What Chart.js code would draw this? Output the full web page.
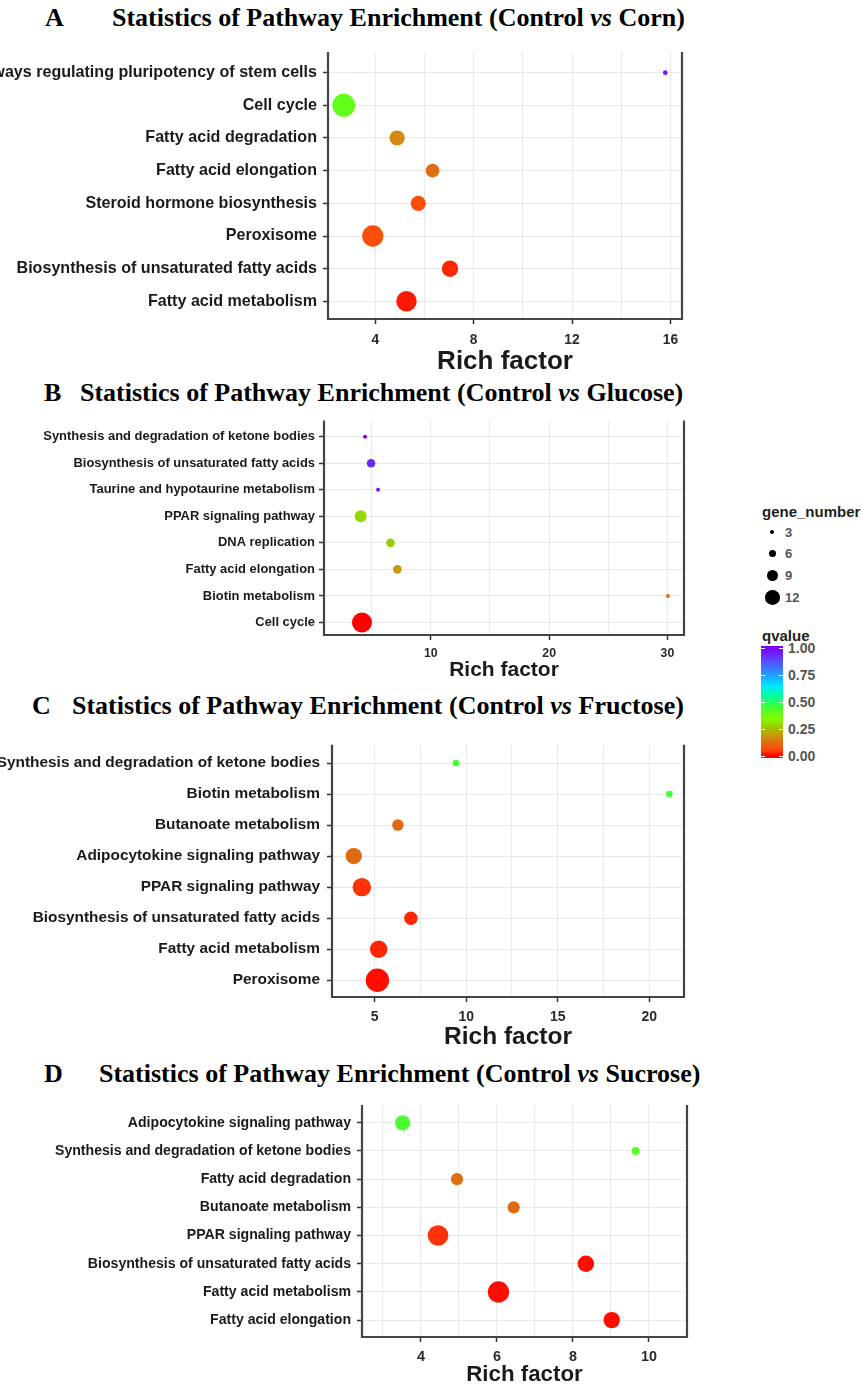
<!DOCTYPE html>
<html>
<head>
<meta charset="utf-8">
<script src="https://cdn.jsdelivr.net/npm/chart.js@4.4.1/dist/chart.umd.min.js"></script>
<style>
html,body{margin:0;padding:0;background:#fff;}
body{width:862px;height:1386px;position:relative;overflow:hidden;font-family:"Liberation Sans",Arial,sans-serif;}
canvas{position:absolute;left:0;}
.ttl{position:absolute;font-family:"Liberation Serif","Times New Roman",serif;font-weight:bold;font-size:26px;line-height:26px;color:#000;white-space:nowrap;}
.lgt{position:absolute;font-weight:bold;font-size:15px;line-height:15px;color:#1e1e1e;white-space:nowrap;}
.lgl{position:absolute;font-weight:bold;font-size:13px;line-height:13px;color:#555;white-space:nowrap;}
.dot{position:absolute;border-radius:50%;background:#000;}
#cbar{position:absolute;}
.wt{position:absolute;height:1px;background:#fff;}
</style>
</head>
<body>
<div class="ttl" style="left:45px;top:5px;">A</div>
<div class="ttl" style="left:112px;top:5px;">Statistics of Pathway Enrichment (Control <i>vs</i> Corn)</div>
<canvas id="cA" width="700" height="337" style="top:38px;"></canvas>

<div class="ttl" style="left:44px;top:380px;">B</div>
<div class="ttl" style="left:80px;top:380px;">Statistics of Pathway Enrichment (Control <i>vs</i> Glucose)</div>
<canvas id="cB" width="700" height="271" style="top:410px;"></canvas>

<div class="ttl" style="left:32px;top:693px;">C</div>
<div class="ttl" style="left:72px;top:693px;">Statistics of Pathway Enrichment (Control <i>vs</i> Fructose)</div>
<canvas id="cC" width="700" height="319" style="top:730px;"></canvas>

<div class="ttl" style="left:44px;top:1061px;">D</div>
<div class="ttl" style="left:99px;top:1061px;">Statistics of Pathway Enrichment (Control <i>vs</i> Sucrose)</div>
<canvas id="cD" width="700" height="294" style="top:1092px;"></canvas>

<div id="legend"></div>

<script>
// ---------- DATA ----------
const pathwaysA = ["Signaling pathways regulating pluripotency of stem cells","Cell cycle","Fatty acid degradation","Fatty acid elongation","Steroid hormone biosynthesis","Peroxisome","Biosynthesis of unsaturated fatty acids","Fatty acid metabolism"];
const richFactorA = [15.79, 2.72, 4.89, 6.33, 5.75, 3.90, 7.04, 5.27];
const geneNumberA = [1, 13, 5, 4, 5, 11, 6, 10];
const qvalueA = [0.97, 0.40, 0.17, 0.13, 0.07, 0.07, 0.03, 0.02];
const xTicksA = [4, 6, 8, 10, 12, 14, 16];
const xTickLabelsA = [4, 8, 12, 16];

const pathwaysB = ["Synthesis and degradation of ketone bodies","Biosynthesis of unsaturated fatty acids","Taurine and hypotaurine metabolism","PPAR signaling pathway","DNA replication","Fatty acid elongation","Biotin metabolism","Cell cycle"];
const richFactorB = [4.44, 4.95, 5.54, 4.07, 6.59, 7.17, 30.04, 4.18];
const geneNumberB = [1, 2, 1, 4, 2, 2, 1, 13];
const qvalueB = [1.00, 0.93, 0.98, 0.29, 0.27, 0.19, 0.12, 0.00];
const xTicksB = [5, 10, 15, 20, 25, 30];
const xTickLabelsB = [10, 20, 30];

const pathwaysC = ["Synthesis and degradation of ketone bodies","Biotin metabolism","Butanoate metabolism","Adipocytokine signaling pathway","PPAR signaling pathway","Biosynthesis of unsaturated fatty acids","Fatty acid metabolism","Peroxisome"];
const richFactorC = [9.44, 21.1, 6.27, 3.86, 4.30, 6.98, 5.22, 5.15];
const geneNumberC = [1, 1, 2, 5, 7, 3, 6, 13];
const qvalueC = [0.45, 0.45, 0.12, 0.12, 0.04, 0.03, 0.03, 0.01];
const xTicksC = [5, 7.5, 10, 12.5, 15, 17.5, 20];
const xTickLabelsC = [5, 10, 15, 20];

const pathwaysD = ["Adipocytokine signaling pathway","Synthesis and degradation of ketone bodies","Fatty acid degradation","Butanoate metabolism","PPAR signaling pathway","Biosynthesis of unsaturated fatty acids","Fatty acid metabolism","Fatty acid elongation"];
const richFactorD = [3.52, 9.65, 4.95, 6.44, 4.45, 8.34, 6.04, 9.02];
const geneNumberD = [5, 2, 3, 3, 11, 6, 12, 6];
const qvalueD = [0.44, 0.42, 0.13, 0.12, 0.04, 0.01, 0.01, 0.01];
const xTicksD = [3, 4, 5, 6, 7, 8, 9, 10];
const xTickLabelsD = [4, 6, 8, 10];

const legendGeneBreaks = [3, 6, 9, 12];
const legendQLabels = ["1.00", "0.75", "0.50", "0.25", "0.00"];
const legendQValues = [1.00, 0.75, 0.50, 0.25, 0.00];

// ---------- STYLE ----------
const FONT = '"Liberation Sans", Arial, Helvetica, sans-serif';
const colorStops = [[0,'#FF0000'],[0.06,'#FF4A0A'],[0.12,'#E06A10'],[0.18,'#CF9010'],[0.27,'#99CC00'],[0.35,'#80FF00'],[0.45,'#44FF33'],[0.56,'#00FFA0'],[0.65,'#00E8FF'],[0.75,'#20A0FF'],[0.85,'#4A60FF'],[1,'#8000FF']];

function hexToRgb(h){ return [parseInt(h.substr(1,2),16), parseInt(h.substr(3,2),16), parseInt(h.substr(5,2),16)]; }
function qColor(q){
  q = Math.max(0, Math.min(1, q));
  for (let i = 0; i < colorStops.length - 1; i++) {
    const [q0, c0] = colorStops[i], [q1, c1] = colorStops[i+1];
    if (q >= q0 && q <= q1) {
      const t = (q - q0) / (q1 - q0);
      const a = hexToRgb(c0), b = hexToRgb(c1);
      const m = a.map((v, k) => Math.round(v + (b[k] - v) * t));
      return 'rgb(' + m.join(',') + ')';
    }
  }
  return colorStops[colorStops.length-1][1];
}

const frame = {
  id: 'frame',
  afterDraw(chart) {
    const { ctx, chartArea: a } = chart;
    ctx.save();
    ctx.strokeStyle = '#444';
    ctx.lineWidth = 2.2;
    ctx.beginPath();
    ctx.moveTo(a.left, a.top);
    ctx.lineTo(a.left, a.bottom);
    ctx.lineTo(a.right, a.bottom);
    ctx.lineTo(a.right, a.top);
    ctx.stroke();
    ctx.restore();
  }
};

function makePanel(id, p, labels, rich, genes, qs, xTicks, xMajor) {
  const gLo = Math.min(...genes), gHi = Math.max(...genes);
  const rad = g => (p.dMin + (p.dMax - p.dMin) * Math.sqrt((g - gLo) / (gHi - gLo))) / 2;
  new Chart(document.getElementById(id), {
    type: 'bubble',
    data: {
      datasets: [{
        data: rich.map((x, i) => ({ x: x, y: i, r: rad(genes[i]) })),
        backgroundColor: qs.map(qColor),
        borderWidth: 0,
        hoverBorderWidth: 0
      }]
    },
    options: {
      responsive: false,
      animation: false,
      devicePixelRatio: 1,
      events: [],
      layout: { padding: { top: p.padTop, right: p.padRight, bottom: 0, left: 0 } },
      plugins: { legend: { display: false }, tooltip: { enabled: false } },
      scales: {
        x: {
          type: 'linear', position: 'bottom', min: p.xMin, max: p.xMax,
          afterBuildTicks: s => { s.ticks = xTicks.map(v => ({ value: v })); },
          afterFit: s => { s.height = p.xH; },
          border: { display: false },
          grid: {
            color: '#e9e9e9', lineWidth: 1, drawTicks: true, tickLength: 5, tickWidth: 1.5,
            tickColor: c => (c.tick && xMajor.includes(c.tick.value)) ? '#333' : 'rgba(0,0,0,0)'
          },
          ticks: {
            autoSkip: false, maxRotation: 0, minRotation: 0, padding: p.xPad, color: '#2a2a2a',
            font: { family: FONT, size: p.xFont, weight: 'bold', lineHeight: 1 },
            callback: v => xMajor.includes(v) ? String(v) : ''
          },
          title: {
            display: true, text: 'Rich factor', color: '#1a1a1a', padding: 0,
            font: { family: FONT, size: p.tFont, weight: 'bold', lineHeight: 1 }
          }
        },
        y: {
          type: 'linear', position: 'left', reverse: true, min: p.yMin, max: p.yMax,
          afterBuildTicks: s => { s.ticks = labels.map((_, i) => ({ value: i })); },
          afterFit: s => { s.width = p.left; },
          border: { display: false },
          grid: { color: '#e9e9e9', lineWidth: 1, drawTicks: true, tickLength: 5, tickWidth: 1.5, tickColor: '#333' },
          ticks: {
            autoSkip: false, padding: p.yPad, color: '#1a1a1a',
            font: { family: FONT, size: p.yFont, weight: 'bold', lineHeight: 1 },
            callback: v => labels[v]
          }
        }
      }
    },
    plugins: [frame]
  });
}

makePanel('cA', { padTop: 9, padRight: 18, left: 328, xH: 56, xMin: 2.08, xMax: 16.47, yMin: -0.63, yMax: 7.54,
  xFont: 13.8, xPad: 9, tFont: 26, yFont: 16.1, yPad: 6, dMin: 4.7, dMax: 22.9 },
  pathwaysA, richFactorA, geneNumberA, qvalueA, xTicksA, xTickLabelsA);

makePanel('cB', { padTop: 10, padRight: 16, left: 324, xH: 46, xMin: 0.97, xMax: 31.4, yMin: -0.61, yMax: 7.47,
  xFont: 12.3, xPad: 7, tFont: 21, yFont: 12.95, yPad: 4, dMin: 4, dMax: 20 },
  pathwaysB, richFactorB, geneNumberB, qvalueB, xTicksB, xTickLabelsB);

makePanel('cC', { padTop: 10, padRight: 16, left: 332, xH: 52, xMin: 2.67, xMax: 21.9, yMin: -0.59, yMax: 7.54,
  xFont: 14, xPad: 8, tFont: 24.5, yFont: 15.4, yPad: 7, dMin: 6.7, dMax: 23.3 },
  pathwaysC, richFactorC, geneNumberC, qvalueC, xTicksC, xTickLabelsC);

makePanel('cD', { padTop: 10, padRight: 13, left: 362, xH: 49, xMin: 2.45, xMax: 11.0, yMin: -0.63, yMax: 7.6,
  xFont: 14.4, xPad: 7.5, tFont: 22.3, yFont: 14.1, yPad: 6, dMin: 8, dMax: 21.3 },
  pathwaysD, richFactorD, geneNumberD, qvalueD, xTicksD, xTickLabelsD);

// ---------- LEGEND (HTML) ----------
(function () {
  const lg = document.getElementById('legend');
  let html = '<div class="lgt" style="left:762px;top:504px;">gene_number</div>';
  const dotD = [4, 7.3, 11.3, 14.7];
  const dotY = [532.3, 553.3, 575.3, 597.7];
  legendGeneBreaks.forEach((g, i) => {
    html += '<div class="dot" style="left:' + (772.3 - dotD[i] / 2) + 'px;top:' + (dotY[i] - dotD[i] / 2) + 'px;width:' + dotD[i] + 'px;height:' + dotD[i] + 'px;"></div>';
    html += '<div class="lgl" style="left:785px;top:' + (dotY[i] - 6.5) + 'px;">' + g + '</div>';
  });
  html += '<div class="lgt" style="left:762px;top:628px;">qvalue</div>';
  const barTop = 646, barBot = 758, y0 = 756, perUnit = 107.7;
  const qTop = (y0 - barTop) / perUnit, qBot = (y0 - barBot) / perUnit;
  const stops = [];
  for (let k = 0; k <= 60; k++) {
    const q = qBot + (qTop - qBot) * k / 60;
    stops.push(qColor(q) + ' ' + (k / 60 * 100).toFixed(2) + '%');
  }
  html += '<div id="cbar" style="left:761px;top:' + barTop + 'px;width:22px;height:' + (barBot - barTop) + 'px;background:linear-gradient(to top,' + stops.join(',') + ');"></div>';
  legendQValues.forEach((q, i) => {
    const y = y0 - q * perUnit;
    html += '<div class="wt" style="left:761px;width:4px;top:' + (y - 0.5) + 'px;"></div>';
    html += '<div class="wt" style="left:779px;width:4px;top:' + (y - 0.5) + 'px;"></div>';
    html += '<div class="lgl" style="left:788px;top:' + (y - 6.5) + 'px;font-size:14px;line-height:13px;">' + legendQLabels[i] + '</div>';
  });
  lg.innerHTML = html;
})();
</script>
</body>
</html>
